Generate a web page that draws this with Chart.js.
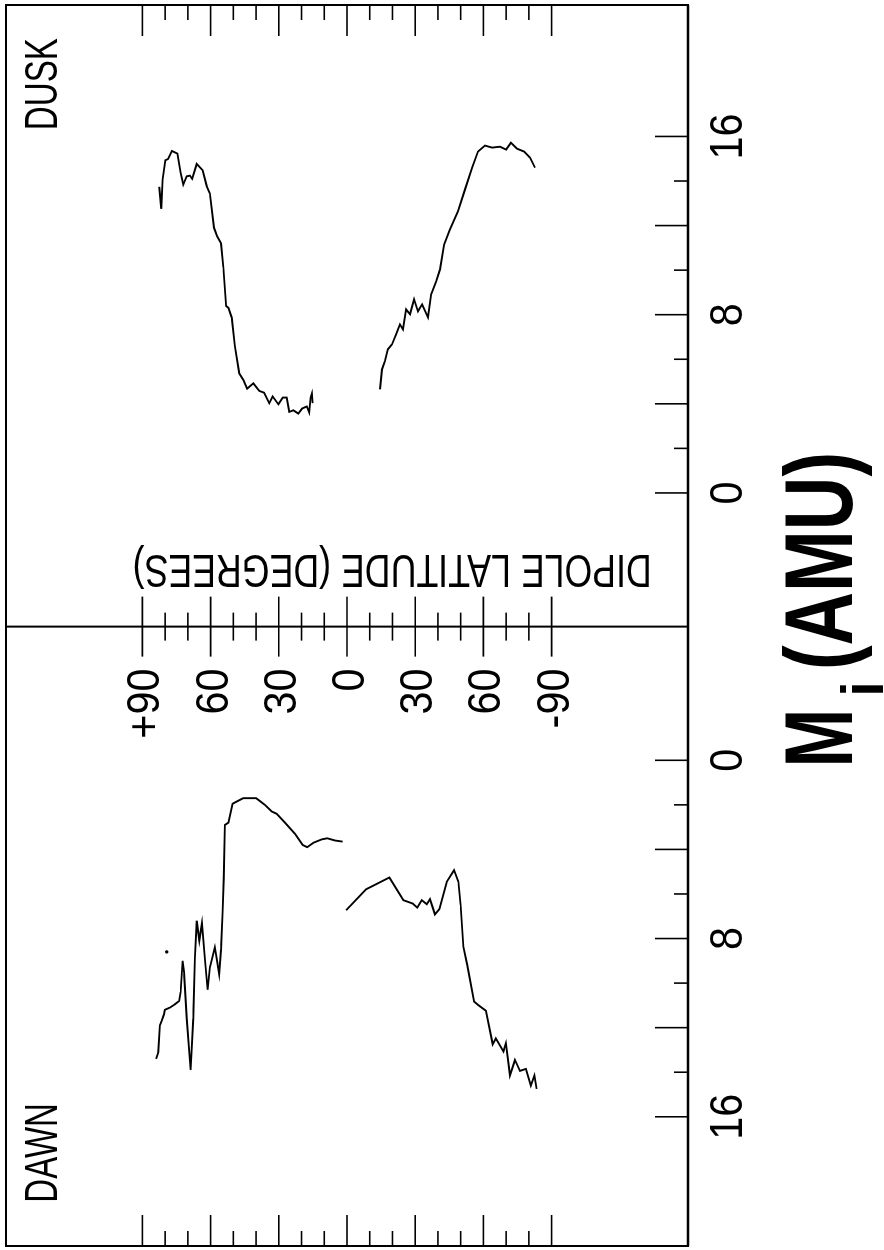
<!DOCTYPE html>
<html>
<head>
<meta charset="utf-8">
<script src="https://cdn.jsdelivr.net/npm/chart.js@4.4.0/dist/chart.umd.min.js"></script>
<style>
  html, body { margin: 0; padding: 0; background: #fff; overflow: hidden; }
  /* the figure is drawn upright and then turned a quarter turn to the left */
  #wrap { position: absolute; left: 0; top: 0; width: 1250px; height: 884px;
          transform-origin: 0 0; transform: translateY(1250px) rotate(-90deg); }
</style>
</head>
<body>
<div id="wrap"><canvas id="massChart" width="1250" height="884"></canvas></div>
<script>
// mass axis of each panel starts this many units away from the latitude axis
const GAP = 6;

// DAWN, northern branch
const dawnUpperMass = [13.4, 13.1, 11.9, 11.7, 11.4, 11.2, 11.1, 10.95, 10.8, 10.4, 9.0, 9.5, 11.6, 13.9, 11.6, 8.9, 7.2, 8.1, 7.3, 8.9, 10.3, 9.3, 8.4, 9.6, 8.5, 6.8, 5.3, 2.9, 2.8, 1.95, 1.85, 1.7, 1.7, 2.0, 2.3, 2.4, 2.8, 3.3, 3.8, 3.9, 3.7, 3.55, 3.5, 3.6, 3.65];
const dawnUpperLat = [84.0, 83.0, 82.3, 81.5, 80.5, 80.1, 77.9, 75.7, 73.8, 73.2, 72.3, 71.7, 70.5, 68.8, 67.6, 66.9, 66.1, 65.0, 63.8, 62.5, 61.3, 60.3, 58.1, 56.2, 55.4, 54.7, 54.2, 53.7, 52.2, 50.3, 48.5, 45.6, 40.0, 36.1, 33.1, 30.9, 27.3, 22.9, 19.5, 17.5, 14.8, 11.1, 8.7, 5.3, 1.9];
// DAWN, southern branch
const dawnLowerMass = [6.73, 5.79, 5.26, 6.28, 6.43, 6.61, 6.28, 6.46, 6.23, 6.92, 6.68, 5.45, 4.93, 5.45, 6.5, 8.37, 9.19, 10.83, 10.99, 11.24, 12.75, 12.48, 13.07, 12.70, 14.15, 13.45, 13.94, 13.85, 14.60, 14.15, 14.75];
const dawnLowerLat = [0.4, -8.4, -18.6, -24.8, -28.9, -30.9, -32.9, -35.1, -36.5, -38.7, -40.6, -43.9, -47.1, -49.0, -50.0, -51.2, -52.9, -55.9, -57.8, -61.1, -64.1, -65.5, -68.8, -69.9, -71.7, -73.9, -76.1, -78.7, -80.9, -82.4, -83.4];
// DAWN, isolated point
const dawnDotMass = [8.6];
const dawnDotLat = [79.3];
// DUSK, northern branch
const duskUpperMass = [13.74, 12.75, 14.07, 14.93, 14.99, 15.35, 15.23, 14.37, 13.84, 14.21, 14.24, 14.10, 14.77, 14.48, 13.77, 13.44, 11.90, 11.52, 11.20, 10.11, 8.39, 8.31, 7.87, 6.59, 5.37, 5.07, 4.68, 4.92, 4.58, 4.50, 4.03, 4.33, 3.98, 4.28, 4.28, 3.64, 3.71, 3.56, 3.79, 3.88, 3.61, 4.28, 4.47, 4.03];
const duskUpperLat = [82.6, 81.7, 81.1, 79.9, 78.7, 77.0, 74.6, 73.2, 72.0, 70.5, 69.1, 68.1, 66.1, 63.5, 61.7, 60.3, 58.5, 57.1, 55.4, 54.4, 53.2, 52.2, 50.7, 49.3, 47.4, 45.6, 43.9, 41.2, 38.6, 36.5, 34.2, 32.7, 30.2, 28.3, 26.5, 25.4, 23.6, 21.4, 19.7, 17.7, 16.6, 16.0, 15.4, 15.1];
// DUSK, southern branch
const duskLowerMass = [4.65, 5.55, 5.91, 6.45, 6.67, 7.12, 7.56, 7.34, 8.24, 8.02, 8.69, 8.15, 8.46, 7.88, 8.91, 9.49, 10.03, 11.15, 11.82, 12.63, 13.62, 14.60, 15.32, 15.59, 15.50, 15.54, 15.41, 15.72, 15.45, 15.32, 15.05, 14.60];
const duskLowerLat = [-14.5, -15.4, -16.7, -18.0, -19.8, -21.6, -23.3, -24.6, -26.0, -27.7, -29.5, -31.2, -33.0, -35.6, -37.0, -39.2, -40.9, -42.7, -45.3, -48.8, -51.9, -55.0, -57.6, -60.7, -63.8, -67.3, -70.0, -72.1, -74.8, -77.9, -80.5, -82.7];

// ticks and labels
const massTicks = [0, 2, 4, 6, 8, 10, 12, 14, 16];
const massLabels = [0, 8, 16];
const latTicks = [-90, -80, -70, -60, -50, -40, -30, -20, -10, 0, 10, 20, 30, 40, 50, 60, 70, 80, 90];
const latLabelValues = [90, 60, 30, 0, -30, -60, -90];
const latLabelText = ['+90', '60', '30', '0', '30', '60', '-90'];

const FONT = '"Liberation Sans", Arial, sans-serif';

// dawn panel runs leftwards from the latitude axis, dusk panel rightwards
const toDawn = m => -(m + GAP);
const toDusk = m => m + GAP;

function points(mass, lat, side) {
  return mass.map((m, i) => ({ x: side(m), y: lat[i] }));
}

function line(ctx, x0, y0, x1, y1) {
  ctx.beginPath();
  ctx.moveTo(x0, y0);
  ctx.lineTo(x1, y1);
  ctx.stroke();
}

// draw text so that its ink fills the given width, centred on cx
function fitText(ctx, text, cx, baseline, width, size, weight) {
  ctx.save();
  ctx.font = (weight || 'normal') + ' ' + size + 'px ' + FONT;
  ctx.textAlign = 'left';
  ctx.textBaseline = 'alphabetic';
  const mt = ctx.measureText(text);
  const ink = mt.actualBoundingBoxLeft + mt.actualBoundingBoxRight;
  const sx = width / ink;
  ctx.translate(cx - width / 2 + mt.actualBoundingBoxLeft * sx, baseline);
  ctx.scale(sx, 1);
  ctx.fillText(text, 0, 0);
  ctx.restore();
}

function squeezeText(ctx, text, x, baseline, size, sx, align, weight) {
  ctx.save();
  ctx.font = (weight || 'normal') + ' ' + size + 'px ' + FONT;
  ctx.textAlign = align;
  ctx.textBaseline = 'alphabetic';
  ctx.translate(x, baseline);
  ctx.scale(sx, 1);
  ctx.fillText(text, 0, 0);
  ctx.restore();
}

const axesPlugin = {
  id: 'axesPlugin',
  afterDatasetsDraw(chart) {
    const { ctx, chartArea: a, scales: { x, y } } = chart;
    const cx = x.getPixelForValue(0);
    ctx.save();
    ctx.strokeStyle = '#000';
    ctx.fillStyle = '#000';
    ctx.lineCap = 'butt';

    // frame
    ctx.lineWidth = 2;
    ctx.strokeRect(a.left, a.top, a.right - a.left, a.bottom - a.top);
    ctx.lineWidth = 2.6;
    line(ctx, a.left, a.bottom, a.right, a.bottom);

    // latitude axis in the middle
    ctx.lineWidth = 2;
    line(ctx, cx, a.top, cx, a.bottom);

    // latitude ticks: both frame edges and the middle axis
    ctx.lineWidth = 1.6;
    latTicks.forEach(v => {
      const py = y.getPixelForValue(v);
      const major = v % 30 === 0;
      const edge = major ? 31 : 15;
      const mid = major ? 30 : 14;
      line(ctx, a.left, py, a.left + edge, py);
      line(ctx, a.right - edge, py, a.right, py);
      line(ctx, cx - mid, py, cx + mid, py);
    });

    // mass ticks, pointing up from the bottom axis
    massTicks.forEach(m => {
      const len = m % 4 === 0 ? 33 : 14;
      [toDawn(m), toDusk(m)].forEach(u => {
        const px = x.getPixelForValue(u);
        line(ctx, px, a.bottom, px, a.bottom - len);
      });
    });

    // mass tick labels
    massLabels.forEach(m => {
      [toDawn(m), toDusk(m)].forEach(u => {
        const px = x.getPixelForValue(u);
        squeezeText(ctx, String(m), px, a.bottom + 54, 47, 0.88, 'center');
      });
    });

    // latitude tick labels, left of the middle axis
    latLabelValues.forEach((v, i) => {
      const py = y.getPixelForValue(v);
      squeezeText(ctx, latLabelText[i], cx - 42, py + 17, 47, 0.88, 'right');
    });

    // latitude title, reading upwards, right of the middle axis
    ctx.save();
    ctx.translate(cx + 72, 392);
    ctx.rotate(-Math.PI / 2);
    fitText(ctx, 'DIPOLE LATITUDE (DEGREES)', 0, 0, 515, 46);
    ctx.restore();

    // panel names
    fitText(ctx, 'DAWN', 97, 57, 95, 46);
    fitText(ctx, 'DUSK', 1167, 57, 90, 46);

    // mass title  M_i (AMU)
    fitText(ctx, 'M', 512, 852, 50, 96, 'bold');
    squeezeText(ctx, 'i', 561, 883, 60, 0.9, 'center', 'bold');
    fitText(ctx, '(AMU)', 689, 852, 212, 96, 'bold');

    ctx.restore();
  }
};

const lineStyle = {
  showLine: true,
  borderColor: '#000',
  borderWidth: 1.9,
  pointRadius: 0,
  tension: 0,
  fill: false
};

new Chart(document.getElementById('massChart'), {
  type: 'scatter',
  data: {
    datasets: [
      { ...lineStyle, label: 'Dawn north', data: points(dawnUpperMass, dawnUpperLat, toDawn) },
      { ...lineStyle, label: 'Dawn south', data: points(dawnLowerMass, dawnLowerLat, toDawn) },
      { ...lineStyle, label: 'Dusk north', data: points(duskUpperMass, duskUpperLat, toDusk) },
      { ...lineStyle, label: 'Dusk south', data: points(duskLowerMass, duskLowerLat, toDusk) },
      {
        label: 'Dawn point',
        data: points(dawnDotMass, dawnDotLat, toDawn),
        showLine: false,
        pointRadius: 1.7,
        pointBackgroundColor: '#000',
        pointBorderWidth: 0
      }
    ]
  },
  options: {
    responsive: false,
    animation: false,
    devicePixelRatio: 1,
    events: [],
    layout: { padding: { left: 2, right: 5, top: 6, bottom: 196 } },
    plugins: {
      legend: { display: false },
      tooltip: { enabled: false }
    },
    scales: {
      x: { type: 'linear', min: -27.8, max: 27.9, display: false },
      y: { type: 'linear', min: -150, max: 150, display: false }
    }
  },
  plugins: [axesPlugin]
});
</script>
</body>
</html>
